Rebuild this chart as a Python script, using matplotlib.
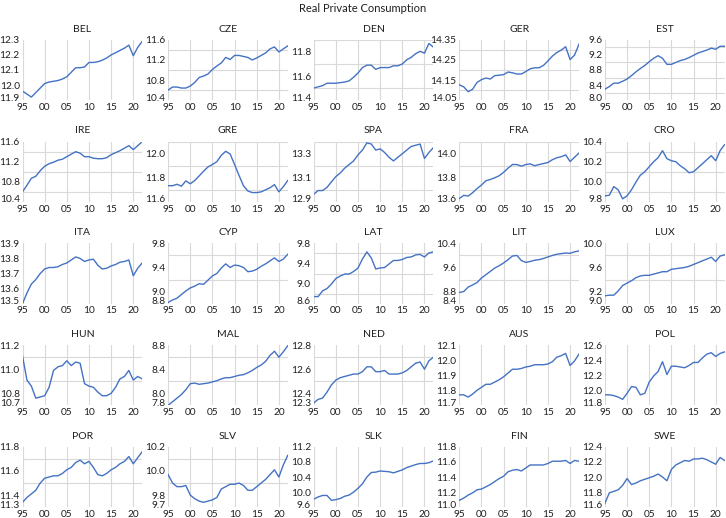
import matplotlib
matplotlib.use('Agg')
import matplotlib.pyplot as plt
import matplotlib.transforms as mtransforms
import numpy as np

plt.rcParams['font.family'] = ['Lato', 'DejaVu Sans']

years = list(range(1995, 2023))

countries = ['BEL', 'CZE', 'DEN', 'GER', 'EST',
             'IRE', 'GRE', 'SPA', 'FRA', 'CRO',
             'ITA', 'CYP', 'LAT', 'LIT', 'LUX',
             'HUN', 'MAL', 'NED', 'AUS', 'POL',
             'POR', 'SLV', 'SLK', 'FIN', 'SWE']

BEL = [11.96, 11.94, 11.92, 11.95, 11.98, 12.01, 12.02, 12.025, 12.03, 12.04,
       12.055, 12.085, 12.115, 12.115, 12.12, 12.15, 12.15, 12.155, 12.165, 12.18,
       12.20, 12.215, 12.23, 12.245, 12.265, 12.195, 12.25, 12.29]
CZE = [10.60, 10.66, 10.66, 10.64, 10.64, 10.68, 10.75, 10.85, 10.88, 10.92,
       11.01, 11.08, 11.14, 11.25, 11.21, 11.29, 11.29, 11.27, 11.25, 11.20,
       11.24, 11.29, 11.34, 11.42, 11.46, 11.36, 11.42, 11.48]
DEN = [11.50, 11.51, 11.52, 11.54, 11.54, 11.54, 11.545, 11.55, 11.56, 11.59,
       11.625, 11.67, 11.69, 11.69, 11.655, 11.67, 11.67, 11.67, 11.685, 11.685,
       11.70, 11.735, 11.755, 11.785, 11.805, 11.79, 11.87, 11.84]
GER = [14.126, 14.116, 14.092, 14.104, 14.138, 14.152, 14.16, 14.155, 14.172, 14.174,
       14.177, 14.19, 14.186, 14.18, 14.18, 14.192, 14.206, 14.211, 14.211, 14.223,
       14.245, 14.269, 14.287, 14.299, 14.316, 14.252, 14.274, 14.328]
EST = [8.29, 8.36, 8.45, 8.45, 8.50, 8.56, 8.65, 8.75, 8.84, 8.92,
       9.02, 9.11, 9.18, 9.11, 8.95, 8.95, 9.00, 9.05, 9.08, 9.13,
       9.19, 9.25, 9.29, 9.33, 9.38, 9.35, 9.43, 9.43]
IRE = [10.60, 10.73, 10.87, 10.91, 11.02, 11.11, 11.16, 11.19, 11.23, 11.25,
       11.30, 11.35, 11.40, 11.37, 11.30, 11.30, 11.27, 11.26, 11.26, 11.28,
       11.34, 11.38, 11.42, 11.47, 11.52, 11.44, 11.52, 11.60]
GRE = [11.734, 11.734, 11.746, 11.73, 11.774, 11.75, 11.777, 11.815, 11.854, 11.89,
       11.91, 11.934, 11.986, 12.02, 11.997, 11.91, 11.82, 11.734, 11.69, 11.677,
       11.677, 11.683, 11.70, 11.717, 11.743, 11.683, 11.726, 11.777]
SPA = [12.963, 12.994, 12.994, 13.02, 13.066, 13.11, 13.14, 13.18, 13.21, 13.24,
       13.29, 13.33, 13.39, 13.38, 13.33, 13.34, 13.31, 13.27, 13.24, 13.27,
       13.30, 13.33, 13.36, 13.37, 13.38, 13.26, 13.31, 13.35]
FRA = [13.628, 13.654, 13.648, 13.676, 13.71, 13.74, 13.775, 13.786, 13.80, 13.817,
       13.845, 13.88, 13.91, 13.91, 13.896, 13.91, 13.915, 13.90, 13.91, 13.918,
       13.927, 13.95, 13.966, 13.975, 13.99, 13.935, 13.97, 14.005]
CRO = [9.859, 9.866, 9.952, 9.92, 9.83, 9.86, 9.92, 9.997, 10.066, 10.10,
       10.15, 10.20, 10.24, 10.31, 10.23, 10.21, 10.20, 10.16, 10.13, 10.09,
       10.10, 10.14, 10.18, 10.22, 10.26, 10.21, 10.31, 10.37]
ITA = [13.50, 13.57, 13.63, 13.66, 13.70, 13.73, 13.74, 13.74, 13.745, 13.76,
       13.77, 13.79, 13.81, 13.80, 13.78, 13.79, 13.795, 13.755, 13.73, 13.735,
       13.75, 13.76, 13.775, 13.78, 13.79, 13.685, 13.735, 13.77]
CYP = [8.82, 8.86, 8.89, 8.95, 9.01, 9.06, 9.09, 9.13, 9.12, 9.19,
       9.26, 9.30, 9.39, 9.46, 9.40, 9.44, 9.43, 9.40, 9.33, 9.34,
       9.37, 9.42, 9.46, 9.51, 9.56, 9.50, 9.54, 9.62]
LAT = [8.74, 8.74, 8.855, 8.90, 8.99, 9.10, 9.15, 9.19, 9.19, 9.24,
       9.31, 9.49, 9.63, 9.51, 9.29, 9.31, 9.32, 9.39, 9.46, 9.46,
       9.48, 9.52, 9.53, 9.57, 9.58, 9.53, 9.61, 9.63]
LIT = [8.77, 8.80, 8.95, 9.02, 9.10, 9.25, 9.36, 9.47, 9.58, 9.66,
       9.75, 9.86, 9.98, 10.00, 9.83, 9.77, 9.80, 9.84, 9.86, 9.90,
       9.95, 10.00, 10.04, 10.06, 10.08, 10.07, 10.12, 10.15]
LUX = [9.13, 9.14, 9.14, 9.21, 9.30, 9.34, 9.38, 9.43, 9.46, 9.47,
       9.47, 9.49, 9.51, 9.53, 9.53, 9.57, 9.58, 9.59, 9.60, 9.62,
       9.65, 9.68, 9.71, 9.74, 9.77, 9.70, 9.79, 9.81]
HUN = [11.11, 10.91, 10.86, 10.76, 10.77, 10.78, 10.85, 10.99, 11.02, 11.03,
       11.07, 11.03, 11.06, 11.05, 10.88, 10.86, 10.85, 10.81, 10.78, 10.78,
       10.80, 10.85, 10.92, 10.94, 10.99, 10.91, 10.94, 10.92]
MAL = [7.80, 7.86, 7.92, 7.98, 8.06, 8.16, 8.17, 8.15, 8.16, 8.17,
       8.19, 8.21, 8.24, 8.26, 8.26, 8.28, 8.30, 8.31, 8.34, 8.38,
       8.43, 8.47, 8.53, 8.63, 8.70, 8.60, 8.69, 8.79]
NED = [12.32, 12.35, 12.36, 12.41, 12.47, 12.51, 12.53, 12.54, 12.55, 12.56,
       12.56, 12.58, 12.62, 12.62, 12.58, 12.58, 12.59, 12.56, 12.56, 12.56,
       12.57, 12.59, 12.62, 12.65, 12.66, 12.60, 12.67, 12.70]
AUS = [11.77, 11.77, 11.755, 11.775, 11.80, 11.82, 11.84, 11.84, 11.855, 11.87,
       11.89, 11.915, 11.94, 11.94, 11.945, 11.955, 11.96, 11.97, 11.97, 11.97,
       11.975, 11.99, 12.02, 12.03, 12.045, 11.965, 11.995, 12.04]
POL = [11.94, 11.94, 11.93, 11.91, 11.88, 11.96, 12.05, 12.04, 11.94, 11.96,
       12.11, 12.19, 12.25, 12.38, 12.21, 12.32, 12.32, 12.31, 12.30, 12.33,
       12.37, 12.37, 12.43, 12.48, 12.50, 12.45, 12.49, 12.51]
POR = [11.34, 11.38, 11.41, 11.44, 11.50, 11.54, 11.55, 11.56, 11.56, 11.58,
       11.61, 11.63, 11.67, 11.69, 11.66, 11.68, 11.63, 11.57, 11.56, 11.58,
       11.61, 11.63, 11.66, 11.68, 11.72, 11.66, 11.71, 11.76]
SLV = [9.97, 9.90, 9.87, 9.87, 9.88, 9.80, 9.77, 9.75, 9.74, 9.75,
       9.76, 9.78, 9.85, 9.87, 9.89, 9.89, 9.90, 9.88, 9.84, 9.84,
       9.87, 9.90, 9.93, 9.97, 10.01, 9.95, 10.05, 10.13]
SLK = [9.81, 9.87, 9.91, 9.91, 9.78, 9.80, 9.83, 9.89, 9.92, 10.00,
       10.10, 10.22, 10.40, 10.52, 10.53, 10.56, 10.55, 10.54, 10.51, 10.55,
       10.59, 10.65, 10.69, 10.73, 10.76, 10.76, 10.78, 10.83]
FIN = [11.09, 11.12, 11.16, 11.19, 11.23, 11.24, 11.27, 11.30, 11.34, 11.38,
       11.41, 11.47, 11.49, 11.50, 11.48, 11.52, 11.56, 11.56, 11.56, 11.56,
       11.58, 11.61, 11.61, 11.61, 11.62, 11.58, 11.62, 11.61]
SWE = [11.65, 11.79, 11.81, 11.83, 11.89, 11.98, 11.90, 11.92, 11.95, 11.97,
       11.99, 12.01, 12.04, 12.00, 11.95, 12.10, 12.16, 12.19, 12.22, 12.21,
       12.24, 12.24, 12.25, 12.23, 12.20, 12.17, 12.26, 12.22]

series = [BEL, CZE, DEN, GER, EST, IRE, GRE, SPA, FRA, CRO, ITA, CYP, LAT, LIT, LUX,
          HUN, MAL, NED, AUS, POL, POR, SLV, SLK, FIN, SWE]

# y axis: (min, max), labelled ticks, gridline step
y_limits = [(11.9, 12.3), (10.4, 11.6), (11.4, 11.9), (14.05, 14.35), (8.0, 9.6),
            (10.4, 11.6), (11.6, 12.1), (12.9, 13.4), (13.6, 14.1), (9.8, 10.4),
            (13.5, 13.9), (8.8, 9.8), (8.6, 9.8), (8.4, 10.4), (9.0, 10.0),
            (10.7, 11.2), (7.8, 8.8), (12.3, 12.8), (11.7, 12.1), (11.8, 12.6),
            (11.3, 11.8), (9.7, 10.2), (9.6, 11.2), (11.0, 11.8), (11.6, 12.4)]
y_labels = [[11.9, 12.0, 12.1, 12.2, 12.3], [10.4, 10.8, 11.2, 11.6], [11.4, 11.6, 11.8],
            [14.05, 14.15, 14.25, 14.35], [8.0, 8.4, 8.8, 9.2, 9.6],
            [10.4, 10.8, 11.2, 11.6], [11.6, 11.8, 12.0], [12.9, 13.1, 13.3],
            [13.6, 13.8, 14.0], [9.8, 10.0, 10.2, 10.4],
            [13.5, 13.6, 13.7, 13.8, 13.9], [8.8, 9.0, 9.4, 9.8], [8.6, 9.0, 9.4, 9.8],
            [8.4, 8.8, 9.6, 10.4], [9.0, 9.2, 9.6, 10.0],
            [10.7, 10.8, 11.0, 11.2], [7.8, 8.0, 8.4, 8.8], [12.3, 12.4, 12.6, 12.8],
            [11.7, 11.8, 11.9, 12.0, 12.1], [11.8, 12.0, 12.2, 12.4, 12.6],
            [11.3, 11.4, 11.6, 11.8], [9.7, 9.8, 10.0, 10.2], [9.6, 10.0, 10.4, 10.8, 11.2],
            [11.0, 11.2, 11.4, 11.6, 11.8], [11.6, 11.8, 12.0, 12.2, 12.4]]
grid_steps = [0.1, 0.2, 0.1, 0.05, 0.2,
              0.2, 0.1, 0.1, 0.1, 0.1,
              0.1, 0.2, 0.2, 0.4, 0.2,
              0.1, 0.2, 0.1, 0.1, 0.2,
              0.1, 0.1, 0.4, 0.2, 0.2]

x_ticks = [1995, 2000, 2005, 2010, 2015, 2020]
x_labels = ['95', '00', '05', '10', '15', '20']

line_color = '#4472C4'
text_color = '#1f1f1f'
grid_color = '#d9d9d9'

fig = plt.figure(figsize=(7.26, 5.18), dpi=100)
gs = fig.add_gridspec(5, 5, left=0.031, right=0.998, top=0.923, bottom=0.021,
                      wspace=0.217, hspace=0.69)

# lift the lowest y label a little so it sits above the x labels
lift = mtransforms.ScaledTranslation(0, 3 / 100, fig.dpi_scale_trans)

for i, name in enumerate(countries):
    ax = fig.add_subplot(gs[i // 5, i % 5])
    lo, hi = y_limits[i]
    ax.plot(years, series[i], color=line_color, lw=1.0)
    ax.set_xlim(1995, 2022)
    ax.set_ylim(lo, hi)
    ax.set_xticks(x_ticks)
    ax.set_xticklabels(x_labels)
    fmt = '{:.2f}' if name == 'GER' else '{:.1f}'
    ax.set_yticks(y_labels[i])
    ax.set_yticklabels([fmt.format(v) for v in y_labels[i]])
    step = grid_steps[i]
    ax.set_yticks(np.arange(lo, hi + step / 2, step), minor=True)
    ax.grid(True, which='major', axis='x', color=grid_color, lw=0.8)
    ax.grid(True, which='minor', axis='y', color=grid_color, lw=0.8)
    ax.tick_params(which='both', length=0, labelsize=7.3, colors=text_color)
    ax.tick_params(axis='y', pad=2)
    ax.tick_params(axis='x', pad=2)
    low_label = ax.get_yticklabels()[0]
    low_label.set_transform(low_label.get_transform() + lift)
    for s in ax.spines.values():
        s.set_visible(False)
    ax.set_axisbelow(True)
    ax.set_title(name, fontsize=7.5, color=text_color, pad=6)

fig.suptitle('Real Private Consumption', fontsize=8, color=text_color, y=0.995)

plt.savefig('out.png', dpi=100)
